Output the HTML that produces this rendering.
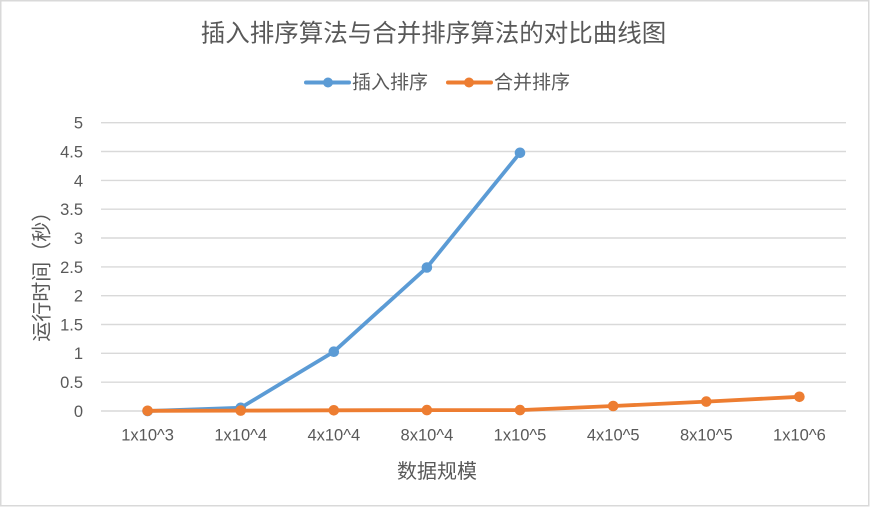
<!DOCTYPE html>
<html>
<head>
<meta charset="utf-8">
<style>
  html,body{margin:0;padding:0;background:#fff;}
  svg{display:block;}
  text{font-family:"Liberation Sans","Noto Sans CJK SC","WenQuanYi Zen Hei",sans-serif;fill:#595959;}
</style>
</head>
<body>
<svg width="870" height="507" viewBox="0 0 870 507" xmlns="http://www.w3.org/2000/svg">
  <rect x="0" y="0" width="870" height="507" fill="#fff"/>
  <rect x="0.75" y="0.75" width="868" height="505" fill="none" stroke="#D9D9D9" stroke-width="1.5"/>

  <!-- Title -->
  <text x="433.5" y="41.3" font-size="24.5" text-anchor="middle">插入排序算法与合并排序算法的对比曲线图</text>

  <!-- Legend -->
  <line x1="306" y1="82.5" x2="349" y2="82.5" stroke="#5B9BD5" stroke-width="4" stroke-linecap="round"/>
  <circle cx="328" cy="82.5" r="5" fill="#5B9BD5"/>
  <text x="352" y="88.3" font-size="19">插入排序</text>
  <line x1="448" y1="82.5" x2="491" y2="82.5" stroke="#ED7D31" stroke-width="4" stroke-linecap="round"/>
  <circle cx="469" cy="82.5" r="5" fill="#ED7D31"/>
  <text x="494" y="88.3" font-size="19">合并排序</text>

  <!-- Gridlines -->
  <g stroke="#D9D9D9" stroke-width="1.4">
    <line x1="101" y1="122.7" x2="846" y2="122.7"/>
    <line x1="101" y1="151.5" x2="846" y2="151.5"/>
    <line x1="101" y1="180.4" x2="846" y2="180.4"/>
    <line x1="101" y1="209.2" x2="846" y2="209.2"/>
    <line x1="101" y1="238.0" x2="846" y2="238.0"/>
    <line x1="101" y1="266.9" x2="846" y2="266.9"/>
    <line x1="101" y1="295.7" x2="846" y2="295.7"/>
    <line x1="101" y1="324.5" x2="846" y2="324.5"/>
    <line x1="101" y1="353.3" x2="846" y2="353.3"/>
    <line x1="101" y1="382.2" x2="846" y2="382.2"/>
    <line x1="101" y1="411.0" x2="846" y2="411.0"/>
  </g>

  <!-- Y tick labels -->
  <g font-size="16.5" text-anchor="end">
    <text x="83" y="128.6">5</text>
    <text x="83" y="157.4">4.5</text>
    <text x="83" y="186.3">4</text>
    <text x="83" y="215.1">3.5</text>
    <text x="83" y="243.9">3</text>
    <text x="83" y="272.8">2.5</text>
    <text x="83" y="301.6">2</text>
    <text x="83" y="330.4">1.5</text>
    <text x="83" y="359.2">1</text>
    <text x="83" y="388.1">0.5</text>
    <text x="83" y="416.9">0</text>
  </g>

  <!-- X tick labels -->
  <g font-size="16.5" text-anchor="middle">
    <text x="147.6" y="440.5">1x10^3</text>
    <text x="240.7" y="440.5">1x10^4</text>
    <text x="333.8" y="440.5">4x10^4</text>
    <text x="426.9" y="440.5">8x10^4</text>
    <text x="520.0" y="440.5">1x10^5</text>
    <text x="613.2" y="440.5">4x10^5</text>
    <text x="706.3" y="440.5">8x10^5</text>
    <text x="799.4" y="440.5">1x10^6</text>
  </g>

  <!-- Axis titles -->
  <text x="437" y="478" font-size="20" text-anchor="middle">数据规模</text>
  <text transform="translate(48.5,271.7) rotate(-90)" x="0" y="0" font-size="20" text-anchor="middle">运行时间（秒）</text>

  <!-- Blue series -->
  <polyline fill="none" stroke="#5B9BD5" stroke-width="3.8" stroke-linejoin="round" stroke-linecap="round"
    points="147.6,411 240.7,407.8 333.8,351.7 426.9,267.5 520,152.8"/>
  <g fill="#5B9BD5">
    <circle cx="147.6" cy="411" r="5.3"/>
    <circle cx="240.7" cy="407.8" r="5.3"/>
    <circle cx="333.8" cy="351.7" r="5.3"/>
    <circle cx="426.9" cy="267.5" r="5.3"/>
    <circle cx="520" cy="152.8" r="5.3"/>
  </g>

  <!-- Orange series -->
  <polyline fill="none" stroke="#ED7D31" stroke-width="3.8" stroke-linejoin="round" stroke-linecap="round"
    points="147.6,410.8 240.7,410.6 333.8,410.3 426.9,410.1 520,410.1 613.2,406 706.3,401.6 799.4,396.8"/>
  <g fill="#ED7D31">
    <circle cx="147.6" cy="410.8" r="5.3"/>
    <circle cx="240.7" cy="410.6" r="5.3"/>
    <circle cx="333.8" cy="410.3" r="5.3"/>
    <circle cx="426.9" cy="410.1" r="5.3"/>
    <circle cx="520" cy="410.1" r="5.3"/>
    <circle cx="613.2" cy="406" r="5.3"/>
    <circle cx="706.3" cy="401.6" r="5.3"/>
    <circle cx="799.4" cy="396.8" r="5.3"/>
  </g>
</svg>
</body>
</html>
